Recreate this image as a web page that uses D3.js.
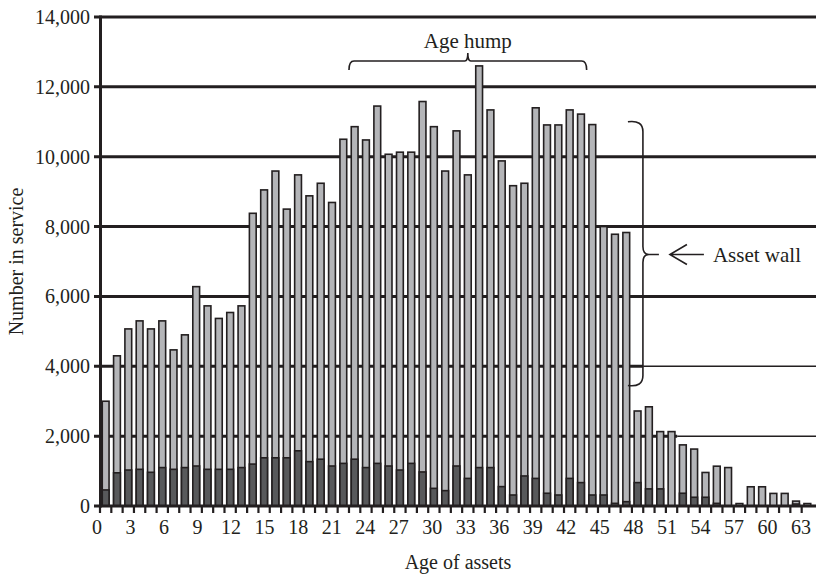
<!DOCTYPE html>
<html>
<head>
<meta charset="utf-8">
<script src="https://cdn.jsdelivr.net/npm/d3@7"></script>
<style>
  body { margin: 0; background: #fff; }
  text { font-family: "Liberation Serif", "DejaVu Serif", serif; fill: #231f20; }
</style>
</head>
<body>
<div id="chart"></div>
<script>
// ages shown as bars (one per tick interval)
const ages = d3.range(0, 63);

// total number in service per age (top of the light bar)
const totalInService = [
  3000, 4300, 5070, 5300, 5070, 5300, 4470, 4900, 6280, 5730,
  5370, 5540, 5730, 8380, 9050, 9590, 8500, 9480, 8880, 9240,
  8690, 10500, 10860, 10480, 11450, 10070, 10130, 10130, 11580, 10860,
  9590, 10740, 9480, 12600, 11340, 9880, 9170, 9240, 11400, 10910,
  10910, 11340, 11220, 10920, 8000, 7780, 7830, 2720, 2840, 2130,
  2130, 1750, 1630, 960, 1140, 1100, 70, 550, 550, 360,
  360, 140, 70
];

// dark lower part of each bar
const darkPart = [
  460, 950, 1030, 1050, 965, 1100, 1050, 1100, 1145, 1050,
  1050, 1050, 1100, 1200, 1380, 1380, 1380, 1580, 1270, 1340,
  1145, 1220, 1340, 1100, 1220, 1145, 1030, 1220, 975, 505,
  440, 1145, 790, 1100, 1100, 555, 315, 860, 790, 365,
  315, 790, 670, 315, 315, 76, 124, 670, 490, 490,
  0, 365, 250, 250, 76, 0, 0, 0, 0, 0,
  0, 57, 0
];

const yTicks = [0, 2000, 4000, 6000, 8000, 10000, 12000, 14000];
const xTickLabels = d3.range(0, 64, 3);

const W = 816, H = 579;
const ink = "#231f20";

const svg = d3.select("#chart").append("svg")
  .attr("width", W).attr("height", H);

const y = d3.scaleLinear().domain([0, 14000]).range([506, 17]);

// category edges (tick marks) and bars inside
const xEdge = d3.scaleBand().domain(ages).range([100, 813]);
const xBar = d3.scaleBand().domain(ages).range([100, 813])
  .paddingInner(0.4).paddingOuter(0.2);
// tick labels run on their own spacing in the original
const xLabel = d3.scaleLinear().domain([0, 63]).range([97, 801]);

// gridlines
const grid = svg.append("g");
yTicks.filter(d => d > 0).forEach(function(v) {
  let thinFrom = null;
  if (v === 4000) thinFrom = xEdge(48);
  if (v === 2000) thinFrom = xEdge(51);
  grid.append("line")
    .attr("x1", 94).attr("x2", thinFrom || W)
    .attr("y1", y(v)).attr("y2", y(v))
    .attr("stroke", ink).attr("stroke-width", 3);
  if (thinFrom) {
    grid.append("line")
      .attr("x1", thinFrom).attr("x2", W)
      .attr("y1", y(v)).attr("y2", y(v))
      .attr("stroke", ink).attr("stroke-width", 1.5);
  }
});

// bars: light total, dark part on top of it
const bars = svg.append("g");
bars.selectAll("rect.total")
  .data(ages)
  .enter().append("rect")
  .attr("class", "total")
  .attr("x", d => xBar(d))
  .attr("width", xBar.bandwidth())
  .attr("y", d => y(totalInService[d]))
  .attr("height", d => y(0) - y(totalInService[d]))
  .attr("fill", "#b4b5b8")
  .attr("stroke", ink)
  .attr("stroke-width", 1.6);

bars.selectAll("rect.dark")
  .data(ages.filter(d => darkPart[d] > 0))
  .enter().append("rect")
  .attr("class", "dark")
  .attr("x", d => xBar(d))
  .attr("width", xBar.bandwidth())
  .attr("y", d => y(darkPart[d]))
  .attr("height", d => y(0) - y(darkPart[d]))
  .attr("fill", "#58595b")
  .attr("stroke", ink)
  .attr("stroke-width", 1.6);

// axes
svg.append("line")
  .attr("x1", 100.5).attr("x2", 100.5)
  .attr("y1", y(14000) - 1.5).attr("y2", y(0) + 1.5)
  .attr("stroke", ink).attr("stroke-width", 3);
svg.append("line")
  .attr("x1", 94).attr("x2", W)
  .attr("y1", y(0)).attr("y2", y(0))
  .attr("stroke", ink).attr("stroke-width", 3);

// x ticks at category edges
svg.append("g").selectAll("line")
  .data(ages)
  .enter().append("line")
  .attr("x1", d => xEdge(d)).attr("x2", d => xEdge(d))
  .attr("y1", y(0)).attr("y2", y(0) + 7)
  .attr("stroke", ink).attr("stroke-width", 2.2);

svg.append("g").selectAll("text")
  .data(xTickLabels)
  .enter().append("text")
  .attr("x", d => xLabel(d))
  .attr("y", 534)
  .attr("text-anchor", "middle")
  .style("font-size", "20px")
  .text(d => d);

svg.append("g").selectAll("text")
  .data(yTicks)
  .enter().append("text")
  .attr("x", 90)
  .attr("y", d => y(d) + 7)
  .attr("text-anchor", "end")
  .style("font-size", "20px")
  .text(d => d3.format(",")(d));

svg.append("text")
  .attr("transform", "translate(23," + y(7000) + ") rotate(-90)")
  .attr("text-anchor", "middle")
  .style("font-size", "20px")
  .text("Number in service");

svg.append("text")
  .attr("x", 458).attr("y", 569)
  .attr("text-anchor", "middle")
  .style("font-size", "20px")
  .text("Age of assets");

// "Age hump" bracket
const hx0 = xEdge(22), hx1 = xEdge(43), hm = (hx0 + hx1) / 2, hy = 61;
const hump = d3.path();
hump.moveTo(hx0, hy + 9);
hump.quadraticCurveTo(hx0, hy, hx0 + 5, hy);
hump.lineTo(hm - 3, hy);
hump.quadraticCurveTo(hm, hy, hm, hy - 8);
hump.quadraticCurveTo(hm, hy, hm + 3, hy);
hump.lineTo(hx1 - 5, hy);
hump.quadraticCurveTo(hx1, hy, hx1, hy + 9);
svg.append("path").attr("d", hump.toString())
  .attr("fill", "none").attr("stroke", ink).attr("stroke-width", 1.6);

svg.append("text")
  .attr("x", hm).attr("y", 48)
  .attr("text-anchor", "middle")
  .style("font-size", "21px")
  .text("Age hump");

// "Asset wall" brace and arrow
const bx0 = xEdge(47) - 4, bx1 = bx0 + 15;
const by0 = y(11000), by1 = y(3450), bm = y(7200);
const brace = d3.path();
brace.moveTo(bx0, by0);
brace.quadraticCurveTo(bx1, by0 - 2, bx1, by0 + 10);
brace.lineTo(bx1, bm - 8);
brace.quadraticCurveTo(bx1, bm, bx1 + 6, bm);
brace.lineTo(bx1 + 16, bm);
brace.moveTo(bx1 + 6, bm);
brace.quadraticCurveTo(bx1, bm, bx1, bm + 8);
brace.lineTo(bx1, by1 - 10);
brace.quadraticCurveTo(bx1, by1 + 2, bx0, by1);
svg.append("path").attr("d", brace.toString())
  .attr("fill", "none").attr("stroke", ink).attr("stroke-width", 1.6);

const ax = bx1 + 27;
const arrow = d3.path();
arrow.moveTo(ax + 34, bm);
arrow.lineTo(ax, bm);
arrow.moveTo(ax + 17, bm - 10);
arrow.lineTo(ax, bm);
arrow.lineTo(ax + 17, bm + 10);
svg.append("path").attr("d", arrow.toString())
  .attr("fill", "none").attr("stroke", ink).attr("stroke-width", 1.6);

svg.append("text")
  .attr("x", ax + 43).attr("y", bm + 7)
  .style("font-size", "21px")
  .text("Asset wall");
</script>
</body>
</html>
